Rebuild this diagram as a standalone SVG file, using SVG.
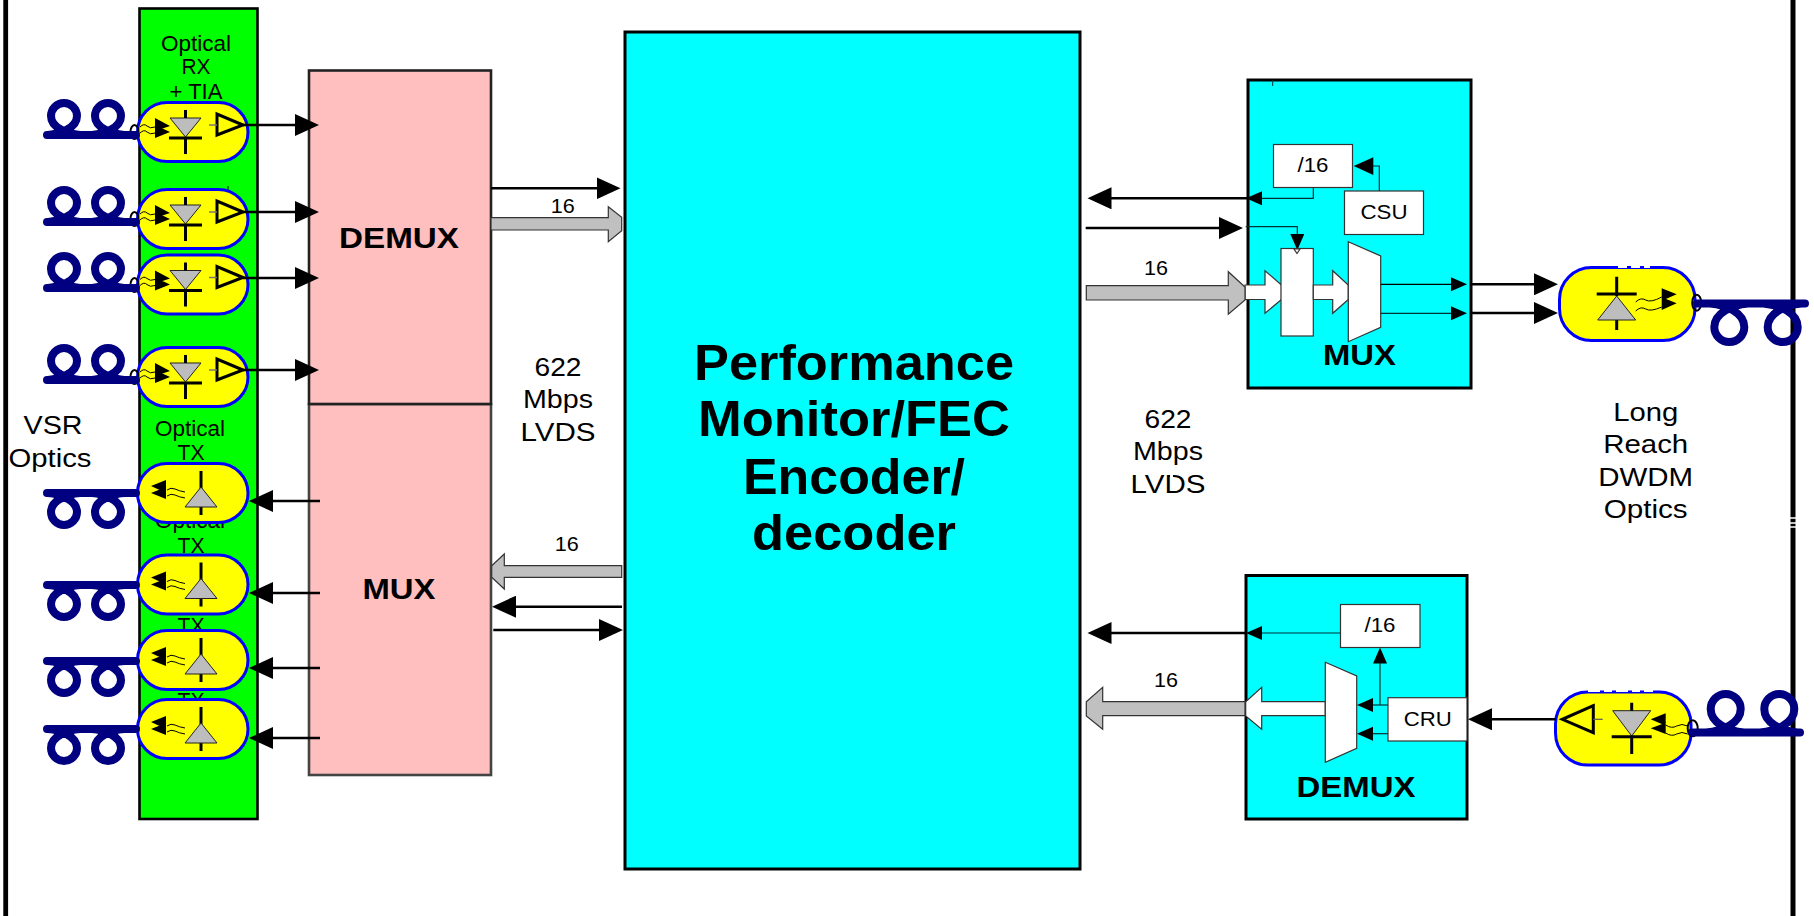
<svg xmlns="http://www.w3.org/2000/svg" xmlns:xlink="http://www.w3.org/1999/xlink" width="1814" height="916" viewBox="0 0 1814 916">
<style>
text{font-family:"Liberation Sans",Arial,sans-serif;fill:#000;text-anchor:middle}
.t22{font-size:22px}.t26{font-size:26px}.t20{font-size:20px}
.b30{font-size:30px;font-weight:bold}.b50{font-size:50px;font-weight:bold}
.box{stroke:#000;stroke-width:3}
.inner{fill:#fff;stroke:#333;stroke-width:1.2}
.gray{fill:#c0c0c0;stroke:#333;stroke-width:1.2}
.pill{fill:#ff0;stroke:#00f;stroke-width:3}
.heavy{fill:none;stroke:#000;stroke-width:3}
.dio{fill:#bdbdbd;stroke:#222;stroke-width:1}
.wave{fill:none;stroke:#000;stroke-width:1}
.fib{fill:none;stroke:#000080;stroke-width:8;stroke-linecap:round}
.oval{fill:none;stroke:#000;stroke-width:2}
.w{stroke:#000;stroke-width:2.6;fill:none}
.th{stroke:#033;stroke-width:1.2;fill:none}
</style>
<defs>
<marker id="big" markerUnits="userSpaceOnUse" markerWidth="25" markerHeight="22" refX="1" refY="11" orient="auto"><path d="M0 0L24 11L0 22Z"/></marker>
<marker id="small" markerUnits="userSpaceOnUse" markerWidth="17" markerHeight="15" refX="1" refY="7" orient="auto"><path d="M0 0L16 7L0 14Z"/></marker>
<g id="rxBody">
<rect class="pill" x="-0.500" y="-0.500" width="110.500" height="59" rx="29.500"/>
<path class="wave" d="M2 24q4-4 7-1t8 1M2 30q4-4 7-1t8 1"/>
<path d="M17 15V28L32 23ZM17 22V35L32 29Z"/>
<path class="dio" d="M32 15H63L47.500 34Z"/>
<path class="heavy" d="M47.500 7V15M31 35H64M47.500 35V51"/>
<path class="heavy" d="M79 11V32L105 22Z"/>
<path d="M71 22H79" stroke="#777" stroke-width="1.500"/>
</g>
<g id="txBody">
<rect class="pill" x="-0.500" y="-0.500" width="110.500" height="59" rx="29.500"/>
<path d="M13 22L28 16V29ZM13 29L28 23V35Z"/>
<path class="wave" d="M29 26q4-3 8-1t10 3M29 32q4-3 8-1t10 3"/>
<path class="heavy" d="M63 7V25M63 43V51"/>
<path class="dio" d="M63 23L47 43H79Z"/>
</g>
<path id="fibUp" class="fib" d="M47 135H136M80 135C68 134 51 128 51 116A13 13 0 1 1 77 116C77 128 60 134 48 135M124 135C112 134 95 128 95 116A13 13 0 1 1 121 116C121 128 104 134 92 135"/>
</defs>

<g id="frame">
<rect x="3.300" y="0" width="4.800" height="916"/>
<rect x="1790.500" y="0" width="5" height="916"/>
<path d="M1788 518h8M1789 523h8M1789 527h8" stroke="#fff" stroke-width="1.500"/>
</g>

<g id="optics-card">
<rect x="139.500" y="8.500" width="118" height="810.500" fill="#0f0" stroke="#000" stroke-width="2.600"/>
<text class="t22" x="196" y="50.500" textLength="70" lengthAdjust="spacingAndGlyphs">Optical</text>
<text class="t22" x="196" y="74" textLength="29" lengthAdjust="spacingAndGlyphs">RX</text>
<text class="t22" x="196" y="99" textLength="53" lengthAdjust="spacingAndGlyphs">+ TIA</text>
<text class="t22" x="190" y="436" textLength="70" lengthAdjust="spacingAndGlyphs">Optical</text>
<text class="t22" x="191" y="460" textLength="27" lengthAdjust="spacingAndGlyphs">TX</text>
<text class="t22" x="190" y="528" textLength="70" lengthAdjust="spacingAndGlyphs">Optical</text>
<text class="t22" x="191" y="553" textLength="27" lengthAdjust="spacingAndGlyphs">TX</text>
<text class="t22" x="191" y="633" textLength="27" lengthAdjust="spacingAndGlyphs">TX</text>
<text class="t22" x="191" y="708" textLength="27" lengthAdjust="spacingAndGlyphs">TX</text>
<path d="M228 186V191" stroke="#000" stroke-width="1"/>
</g>

<g id="rx1"><use xlink:href="#rxBody" href="#rxBody" transform="translate(138,103)"/><ellipse class="oval" cx="134.500" cy="132" rx="4" ry="7"/><use xlink:href="#fibUp" href="#fibUp"/></g>
<g id="rx2"><use xlink:href="#rxBody" href="#rxBody" transform="translate(138,190)"/><ellipse class="oval" cx="134.500" cy="219" rx="4" ry="7"/><use xlink:href="#fibUp" href="#fibUp" transform="translate(0,87)"/></g>
<g id="rx3"><use xlink:href="#rxBody" href="#rxBody" transform="translate(138,255.500)"/><ellipse class="oval" cx="134.500" cy="285" rx="4" ry="7"/><use xlink:href="#fibUp" href="#fibUp" transform="translate(0,153)"/></g>
<g id="rx4"><use xlink:href="#rxBody" href="#rxBody" transform="translate(138,348)"/><ellipse class="oval" cx="134.500" cy="377" rx="4" ry="7"/><use xlink:href="#fibUp" href="#fibUp" transform="translate(0,245)"/></g>

<g id="tx1"><use xlink:href="#txBody" href="#txBody" transform="translate(138,464)"/><use xlink:href="#fibUp" href="#fibUp" transform="translate(0,628) scale(1,-1)"/></g>
<g id="tx2"><use xlink:href="#txBody" href="#txBody" transform="translate(138,555.500)"/><use xlink:href="#fibUp" href="#fibUp" transform="translate(0,720) scale(1,-1)"/></g>
<g id="tx3"><use xlink:href="#txBody" href="#txBody" transform="translate(138,631)"/><use xlink:href="#fibUp" href="#fibUp" transform="translate(0,796) scale(1,-1)"/></g>
<g id="tx4"><use xlink:href="#txBody" href="#txBody" transform="translate(138,700)"/><use xlink:href="#fibUp" href="#fibUp" transform="translate(0,864) scale(1,-1)"/></g>

<g id="mux-left">
<rect x="309" y="404" width="182" height="371" fill="#ffbfbf" stroke="#444" stroke-width="2.600"/>
<text class="b30" x="399" y="599" textLength="73" lengthAdjust="spacingAndGlyphs">MUX</text>
</g>
<g id="demux-left">
<rect x="309" y="70.500" width="182" height="333.500" fill="#ffbfbf" stroke="#222" stroke-width="2.600"/>
<text class="b30" x="399" y="248" textLength="120" lengthAdjust="spacingAndGlyphs">DEMUX</text>
</g>

<g id="fec">
<rect class="box" x="625" y="32" width="455" height="837" fill="#0ff"/>
<text class="b50" x="854" y="380" textLength="320" lengthAdjust="spacingAndGlyphs">Performance</text>
<text class="b50" x="854" y="436" textLength="312" lengthAdjust="spacingAndGlyphs">Monitor/FEC</text>
<text class="b50" x="854" y="494" textLength="222" lengthAdjust="spacingAndGlyphs">Encoder/</text>
<text class="b50" x="854" y="550" textLength="204" lengthAdjust="spacingAndGlyphs">decoder</text>
</g>

<g id="mux-block">
<rect class="box" x="1248" y="80" width="223" height="308" fill="#0ff"/>
<path d="M1272.700 80V86" stroke="#033" stroke-width="1"/>
<rect class="inner" x="1273.500" y="144.500" width="79" height="43"/>
<text class="t20" x="1313" y="172" textLength="31" lengthAdjust="spacingAndGlyphs">/16</text>
<rect class="inner" x="1344.500" y="191" width="79" height="43.500"/>
<text class="t20" x="1384" y="218.500" textLength="47" lengthAdjust="spacingAndGlyphs">CSU</text>
<path class="th" d="M1379.300 191V166H1373"/>
<path d="M1373.300 157.300V175L1353.700 166Z"/>
<path class="th" d="M1313.300 187.500V198.300H1261" marker-end="url(#small)"/>
<path class="th" d="M1245.700 226.700H1297.300V235" marker-end="url(#small)"/>
<path class="inner" d="M1245 285H1265V270.700L1281.500 285V299.500L1265 313.300V299.500H1245Z"/>
<rect class="inner" x="1281" y="248.500" width="32.300" height="87.500"/>
<path class="inner" d="M1294 249H1300L1297 253.500Z"/>
<path class="inner" d="M1313.300 285H1332.700V270.700L1348.300 285V299.500L1332.700 313.300V299.500H1313.300Z"/>
<path class="inner" d="M1348.300 241.700L1380.700 256V327.300L1348.300 341.700Z"/>
<path d="M1380.700 284.300H1452" stroke="#000" stroke-width="1.200" marker-end="url(#small)"/>
<path class="th" d="M1380.700 313.300H1452" marker-end="url(#small)"/>
<text class="b30" x="1359.500" y="365" textLength="73" lengthAdjust="spacingAndGlyphs">MUX</text>
</g>

<g id="demux-block">
<rect class="box" x="1246" y="575.500" width="221" height="243.500" fill="#0ff"/>
<rect class="inner" x="1340.500" y="604.500" width="79.500" height="43"/>
<text class="t20" x="1380" y="632" textLength="31" lengthAdjust="spacingAndGlyphs">/16</text>
<path class="th" d="M1340.500 633H1261" marker-end="url(#small)"/>
<path class="inner" d="M1325.300 701.700H1261.700V687.300L1245.700 701.700V716L1261.700 729.300V715.700H1325.300Z"/>
<path class="inner" d="M1325.300 662.300L1356.700 676V748.300L1325.300 762.300Z"/>
<rect class="inner" x="1388" y="697.700" width="79" height="43.300"/>
<text class="t20" x="1427.700" y="726" textLength="48" lengthAdjust="spacingAndGlyphs">CRU</text>
<path class="th" d="M1388 705H1372" marker-end="url(#small)"/>
<path class="th" d="M1388 733.700H1372" marker-end="url(#small)"/>
<path class="th" d="M1380 705V662.500" marker-end="url(#small)"/>
<text class="b30" x="1356" y="797" textLength="119" lengthAdjust="spacingAndGlyphs">DEMUX</text>
</g>

<g id="lr-tx">
<rect class="pill" x="1559.500" y="267.500" width="135.500" height="73" rx="32"/>
<path d="M1618 267h32" stroke="#fff" stroke-width="2" stroke-dasharray="9 4"/>
<path class="heavy" d="M1616.700 276.700V296M1596.700 294H1636.700M1616.700 320V330"/>
<path class="dio" d="M1616.700 296L1597.700 320H1635.700Z"/>
<path class="wave" d="M1635.700 302q5-5 10-2t16-3M1635.700 311q5-5 10-2t16-2"/>
<path d="M1661.700 288.300V300.700L1676.700 294.300ZM1661.700 297.300V310L1676.700 303.300Z"/>
<ellipse class="oval" cx="1696.700" cy="302.700" rx="4.500" ry="8"/>
<path class="fib" d="M1697 303.500H1805M1748 303.500C1732 305 1714.300 313 1714.300 327A15 15 0 1 0 1744.300 327C1744.300 313 1727 305 1710 303.500M1801.500 303.500C1785.500 305 1767.700 313 1767.700 327A15 15 0 1 0 1797.700 327C1797.700 313 1780.500 305 1763.500 303.500"/>
</g>

<g id="lr-rx">
<rect class="pill" x="1555.500" y="692" width="135.500" height="73" rx="32"/>
<path d="M1588 691h65" stroke="#fff" stroke-width="2" stroke-dasharray="12 4 8 4"/>
<path class="heavy" d="M1593.300 705.700L1562.300 719.300L1593.300 732.700Z"/>
<path d="M1593 719.300H1602.700" stroke="#555" stroke-width="1.200"/>
<path class="dio" d="M1612.700 710.700H1650.700L1631.700 736Z"/>
<path class="heavy" d="M1631.700 702.700V710.700M1611.700 736.700H1651.700M1631.700 736.700V754"/>
<path d="M1650.700 719.300L1665.700 713.300V725.700ZM1650.700 728.300L1665.700 722.700V734Z"/>
<path class="wave" d="M1665.700 725q6 4 11 1t11 0M1665.700 733q6 4 11 1t11 0"/>
<ellipse class="oval" cx="1692.700" cy="728.300" rx="5" ry="8"/>
<path class="fib" d="M1692 732.500H1800M1744 732.500C1728 731 1710.700 723 1710.700 709A15 15 0 1 1 1740.700 709C1740.700 723 1723 731 1706 732.500M1797.500 732.500C1781.500 731 1764.300 723 1764.300 709A15 15 0 1 1 1794.300 709C1794.300 723 1777 731 1760 732.500"/>
</g>

<g id="connectors">
<path class="w" d="M243 125H296" marker-end="url(#big)"/>
<path class="w" d="M243 212H296" marker-end="url(#big)"/>
<path class="w" d="M243 278H296" marker-end="url(#big)"/>
<path class="w" d="M243 370H296" marker-end="url(#big)"/>
<path class="w" d="M320 501H272" marker-end="url(#big)"/>
<path class="w" d="M320 593H272" marker-end="url(#big)"/>
<path class="w" d="M320 668H272" marker-end="url(#big)"/>
<path class="w" d="M320 738H272" marker-end="url(#big)"/>
<path class="w" d="M491 188.300H597.500" marker-end="url(#big)"/>
<path class="gray" d="M491 217.700H608.300V206.700L621.700 217.300V230.700L608.300 241.700V230H491Z"/>
<path class="gray" d="M621.700 565.700H504.300V554L491.700 565.700V577.300L504.300 589V577.300H621.700Z"/>
<path class="w" d="M622 606.700H515" marker-end="url(#big)"/>
<path class="w" d="M493.300 630H600" marker-end="url(#big)"/>
<path class="w" d="M1247 198.300H1110.500" marker-end="url(#big)"/>
<path class="w" d="M1085.700 228H1220" marker-end="url(#big)"/>
<path class="gray" d="M1086.300 285.700H1228.300V271.700L1245 287V300L1228.300 314.300V300H1086.300Z"/>
<path class="w" d="M1471 284.300H1535" marker-end="url(#big)"/>
<path class="w" d="M1471 313H1535" marker-end="url(#big)"/>
<path class="w" d="M1246 633H1110.500" marker-end="url(#big)"/>
<path class="gray" d="M1245 701.700H1102.700V687.300L1086.300 701.700V716L1102.700 729.300V715.700H1245Z"/>
<path class="w" d="M1556 719.300H1491" marker-end="url(#big)"/>
</g>

<g id="labels">
<text class="t20" x="562.700" y="212.700" textLength="24" lengthAdjust="spacingAndGlyphs">16</text>
<text class="t20" x="566.700" y="550.700" textLength="24" lengthAdjust="spacingAndGlyphs">16</text>
<text class="t20" x="1156" y="275" textLength="24" lengthAdjust="spacingAndGlyphs">16</text>
<text class="t20" x="1166" y="687" textLength="24" lengthAdjust="spacingAndGlyphs">16</text>
<text class="t26" x="558" y="376" textLength="47" lengthAdjust="spacingAndGlyphs">622</text>
<text class="t26" x="558" y="408" textLength="70" lengthAdjust="spacingAndGlyphs">Mbps</text>
<text class="t26" x="558" y="441" textLength="75" lengthAdjust="spacingAndGlyphs">LVDS</text>
<text class="t26" x="1168" y="428" textLength="47" lengthAdjust="spacingAndGlyphs">622</text>
<text class="t26" x="1168" y="460" textLength="70" lengthAdjust="spacingAndGlyphs">Mbps</text>
<text class="t26" x="1168" y="493" textLength="75" lengthAdjust="spacingAndGlyphs">LVDS</text>
<path d="M1129 473h5M1168 473h9M1199 473h5M1170 476h3" stroke="#fff" stroke-width="2.500"/>
<text class="t26" x="53" y="434" textLength="59" lengthAdjust="spacingAndGlyphs">VSR</text>
<text class="t26" x="50" y="467" textLength="83" lengthAdjust="spacingAndGlyphs">Optics</text>
<text class="t26" x="1645.700" y="421" textLength="65" lengthAdjust="spacingAndGlyphs">Long</text>
<text class="t26" x="1645.700" y="453" textLength="85" lengthAdjust="spacingAndGlyphs">Reach</text>
<text class="t26" x="1645.700" y="485.700" textLength="95" lengthAdjust="spacingAndGlyphs">DWDM</text>
<text class="t26" x="1645.700" y="518" textLength="84" lengthAdjust="spacingAndGlyphs">Optics</text>
</g>
</svg>
